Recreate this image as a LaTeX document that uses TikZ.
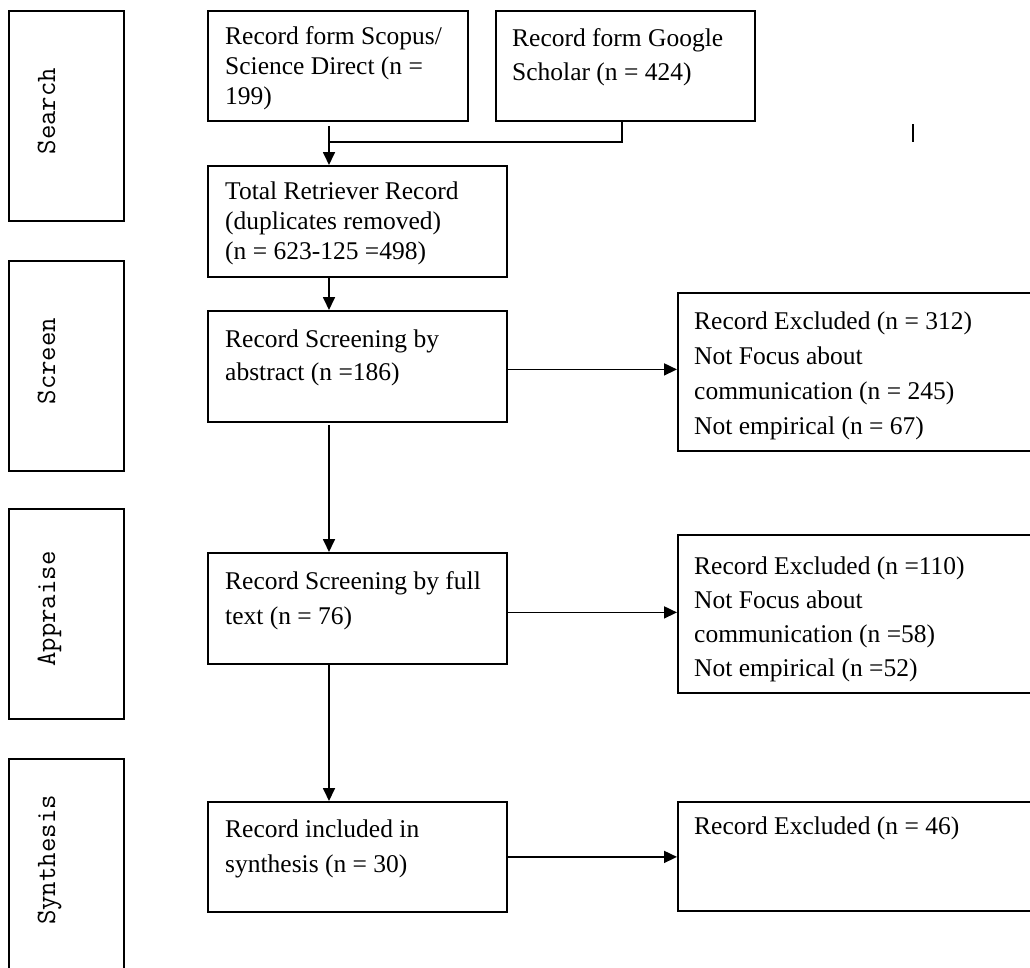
\documentclass[tikz,border=0pt]{standalone}
\usepackage{fontspec}
\setmainfont{Liberation Serif}
\usetikzlibrary{arrows.meta}
\begin{document}
\begin{tikzpicture}[x=1pt,y=-1pt,
  box/.style={draw, line width=1.8pt, inner sep=0pt, anchor=north west},
  txt/.style={anchor=north west, inner sep=0pt, align=left, font=\fontsize{25.5}{35}\selectfont},
  txtb/.style={txt, font=\fontsize{25.5}{30}\selectfont},
  stage/.style={rotate=90, anchor=base, inner sep=0pt, font=\ttfamily\fontsize{28}{30}\selectfont},
  arr/.style={line width=1.7pt, -{Triangle[length=13pt,width=12pt]}},
  conn/.style={line width=1.7pt}]
\useasboundingbox (0,0) rectangle (1030,967);
\clip (0,0) rectangle (1030,967);
% stage boxes
\node[box, minimum width=115pt, minimum height=210pt] (search) at (8,10) {};
\node[box, minimum width=115pt, minimum height=210pt] (screen) at (8,260) {};
\node[box, minimum width=115pt, minimum height=210pt] (appraise) at (8,508) {};
\node[box, minimum width=115pt, minimum height=227pt] (synth) at (8,758) {};
\node[stage] (searcht) at (55,111) {Search};
\node[stage] (screent) at (55,361) {Screen};
\node[stage] (appraiset) at (55,609) {Appraise};
\node[stage] (syntht) at (55,860) {Synthesis};
% flow boxes
\node[box, minimum width=260pt, minimum height=110pt] (scopus) at (207,10) {};
\node[box, minimum width=259pt, minimum height=110pt] (google) at (495,10) {};
\node[box, minimum width=299pt, minimum height=111pt] (total) at (207,165) {};
\node[box, minimum width=299pt, minimum height=111pt] (abstract) at (207,310) {};
\node[box, minimum width=299pt, minimum height=111pt] (full) at (207,552) {};
\node[box, minimum width=299pt, minimum height=110pt] (included) at (207,801) {};
\node[box, minimum width=363pt, minimum height=158pt] (ex1) at (677,292) {};
\node[box, minimum width=363pt, minimum height=158pt] (ex2) at (677,534) {};
\node[box, minimum width=363pt, minimum height=109pt] (ex3) at (677,801) {};
% texts
\node[txtb] (scopust) at (225,26) {Record form Scopus/\\Science Direct (n =\\199)};
\node[txt, font=\fontsize{25.5}{34}\selectfont] (googlet) at (512,28) {Record form Google\\Scholar (n = 424)};
\node[txtb] (totalt) at (225,182) {Total Retriever Record\\(duplicates removed)\\(n = 623-125 =498)};
\node[txt, font=\fontsize{25.5}{33}\selectfont] (abstractt) at (225,330) {Record Screening by\\abstract (n =186)};
\node[txt] (fullt) at (225,571) {Record Screening by full\\text (n = 76)};
\node[txt] (includedt) at (225,820) {Record included in\\synthesis (n = 30)};
\node[txt] (ex1t) at (694,312) {Record Excluded (n = 312)\\Not Focus about\\communication (n = 245)\\Not empirical (n = 67)};
\node[txt, font=\fontsize{25.5}{34}\selectfont] (ex2t) at (694,557) {Record Excluded (n =110)\\Not Focus about\\communication (n =58)\\Not empirical (n =52)};
\node[txt] (ex3t) at (694,817) {Record Excluded (n = 46)};
% connectors
\coordinate (spine) at (329,0);
\coordinate (join) at (329,142);
\coordinate (gdrop) at (622,142);
\draw[conn] (google.south -| gdrop) -- (gdrop) -- (join);
\draw[arr] ([yshift=-4pt]scopus.south -| spine) -- (total.north -| spine);
\draw[arr] (total.south -| spine) -- (abstract.north -| spine);
\draw[arr] ([yshift=-2pt]abstract.south -| spine) -- (full.north -| spine);
\draw[arr] (full.south -| spine) -- (included.north -| spine);
\draw[arr] ([yshift=-3pt]abstract.east) -- ([yshift=-3pt]abstract.east -| ex1.west);
\draw[arr] ([yshift=-4pt]full.east) -- ([yshift=-4pt]full.east -| ex2.west);
\draw[arr] (included.east) -- (included.east -| ex3.west);
% stray tick mark
\coordinate (tickA) at (913,124);
\coordinate (tickB) at (913,142);
\draw[line width=1.3pt] (tickA) -- (tickB);
\end{tikzpicture}
\end{document}
